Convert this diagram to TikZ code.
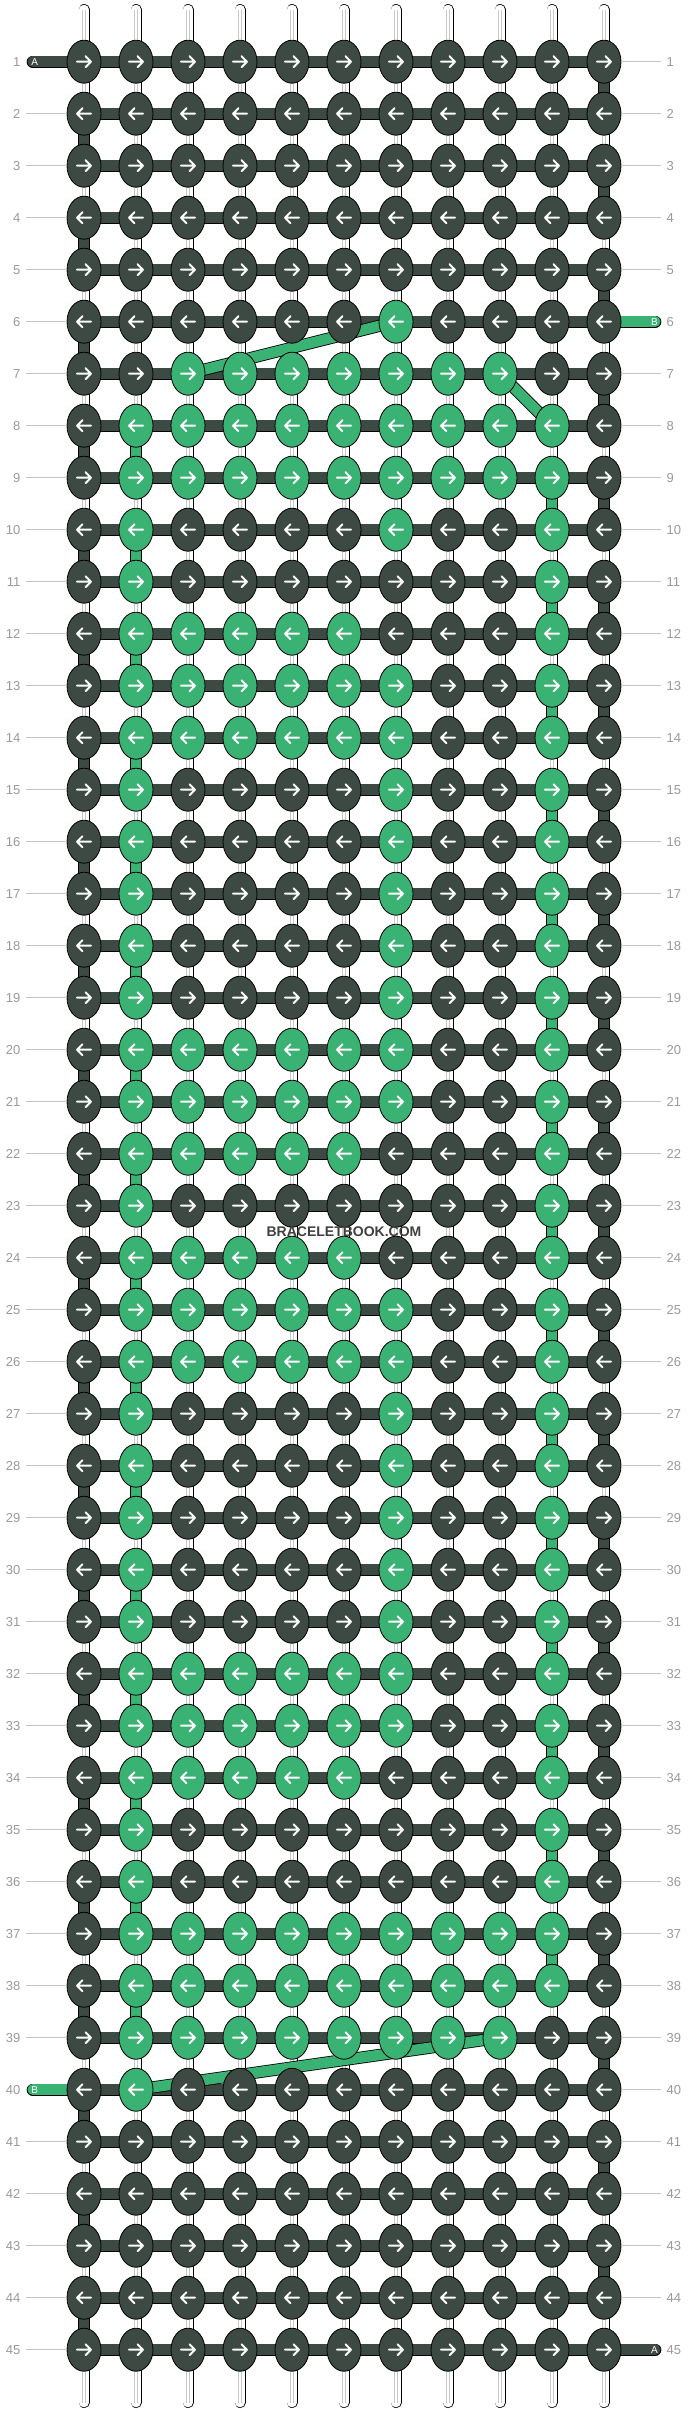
\documentclass[tikz,border=0pt]{standalone}
\usepackage{fontspec}
\setmainfont{Liberation Sans}
\usetikzlibrary{shapes.geometric}
\definecolor{dk}{HTML}{3C4A43}
\definecolor{gn}{HTML}{3AB273}
\definecolor{lbl}{HTML}{9A9A9A}
\definecolor{lln}{HTML}{C4C4C4}
\definecolor{strg}{HTML}{C8C8C8}
\definecolor{wm}{HTML}{404040}
\pgfdeclarelayer{bgl}
\pgfdeclarelayer{strl}
\pgfdeclarelayer{bandl}
\pgfsetlayers{bgl,strl,bandl,main}
\tikzset{
 knot/.style={ellipse, draw=black, line width=0.8pt, minimum width=34pt, minimum height=43pt, inner sep=0pt},
 arrR/.style={path picture={\draw[white,line width=2pt,line cap=round,line join=round]
   ([xshift=-7pt]path picture bounding box.center) -- ([xshift=7pt]path picture bounding box.center)
   ([xshift=1.5pt,yshift=5.5pt]path picture bounding box.center) -- ([xshift=7pt]path picture bounding box.center) -- ([xshift=1.5pt,yshift=-5.5pt]path picture bounding box.center);}},
 arrL/.style={path picture={\draw[white,line width=2pt,line cap=round,line join=round]
   ([xshift=7pt]path picture bounding box.center) -- ([xshift=-7pt]path picture bounding box.center)
   ([xshift=-1.5pt,yshift=5.5pt]path picture bounding box.center) -- ([xshift=-7pt]path picture bounding box.center) -- ([xshift=-1.5pt,yshift=-5.5pt]path picture bounding box.center);}},
 band/.style={draw=black, line width=0.8pt, double=#1, double distance=10.5pt},
 wstr/.style={draw=black, line width=0.7pt, double=white, double distance=9.6pt, line cap=round},
 gline/.style={draw=strg, line width=0.7pt},
 lline/.style={draw=lln, line width=0.9pt},
 lbltxt/.style={text=lbl, font=\fontsize{13}{13}\selectfont, inner sep=0pt},
 tailtxt/.style={text=white, font=\fontsize{10}{10}\selectfont, inner sep=0pt},
}
\begin{document}
\begin{tikzpicture}[x=1pt,y=-1pt]
\useasboundingbox (0,0) rectangle (688,2412);
\begin{pgfonlayer}{bgl}
\fill[white] (0,0) rectangle (688,2412);
\end{pgfonlayer}
% knots
\foreach \r/\gl in {1/{0},2/{0},3/{0},4/{0},5/{0},6/{7},7/{3,4,5,6,7,8,9},8/{2,3,4,5,6,7,8,9,10},9/{2,3,4,5,6,7,8,9,10},10/{2,7,10},11/{2,10},12/{2,3,4,5,6,10},13/{2,3,4,5,6,7,10},14/{2,3,4,5,6,7,10},15/{2,7,10},16/{2,7,10},17/{2,7,10},18/{2,7,10},19/{2,7,10},20/{2,3,4,5,6,7,10},21/{2,3,4,5,6,7,10},22/{2,3,4,5,6,10},23/{2,10},24/{2,3,4,5,6,10},25/{2,3,4,5,6,7,10},26/{2,3,4,5,6,7,10},27/{2,7,10},28/{2,7,10},29/{2,7,10},30/{2,7,10},31/{2,7,10},32/{2,3,4,5,6,7,10},33/{2,3,4,5,6,7,10},34/{2,3,4,5,6,10},35/{2,10},36/{2,10},37/{2,3,4,5,6,7,8,9,10},38/{2,3,4,5,6,7,8,9,10},39/{2,3,4,5,6,7,8,9},40/{2},41/{0},42/{0},43/{0},44/{0},45/{0}}{
  \pgfmathsetmacro\ky{61.7+52*(\r-1)}
  \foreach \c in {1,...,11}{
    \gdef\knotcol{dk}
    \foreach \g in \gl {\ifnum\g=\c\relax \gdef\knotcol{gn}\fi}
    \pgfmathsetmacro\kx{84+52*(\c-1)}
    \ifodd\r
      \node[knot, fill=\knotcol, arrR] (k-\r-\c) at (\kx,\ky) {};
    \else
      \node[knot, fill=\knotcol, arrL] (k-\r-\c) at (\kx,\ky) {};
    \fi
  }
  % row labels
  \node[lbltxt, anchor=east] (ln-\r) at (20.5,\ky) {\r};
  \node[lbltxt, anchor=west] (rn-\r) at (666.5,\ky) {\r};
}
% label lines
\foreach \r in {2,...,39,41,42,43,44,45}{
  \draw[lline] ([xshift=5.5pt]ln-\r.east) -- (k-\r-1.west);
}
\foreach \r in {1,2,3,4,5,7,8,...,44}{
  \draw[lline] (k-\r-11.east) -- ([xshift=-5.5pt]rn-\r.west);
}
% vertical base strings
\begin{pgfonlayer}{strl}
\foreach \c in {1,...,11}{
  \pgfmathsetmacro\kx{84+52*(\c-1)}
  \coordinate (st-\c) at (\kx,9.5);
  \coordinate (sb-\c) at (\kx,2402.5);
  \draw[wstr] (st-\c) -- (sb-\c);
  \draw[gline] ([xshift=-1.8pt]st-\c) -- ([xshift=-1.8pt]sb-\c);
  \draw[gline] ([xshift=1.8pt]st-\c) -- ([xshift=1.8pt]sb-\c);
}
\end{pgfonlayer}
% working threads
\begin{pgfonlayer}{bandl}
\foreach \r in {1,...,45}{
  \draw[band=dk] (k-\r-1.center) -- (k-\r-11.center);
}
\foreach \r in {1,...,44}{
  \pgfmathtruncatemacro\rn{\r+1}
  \ifodd\r
    \draw[band=dk] (k-\r-11.center) -- (k-\rn-11.center);
  \else
    \draw[band=dk] (k-\r-1.center) -- (k-\rn-1.center);
  \fi
}
\foreach \r in {8,10,...,38}{
  \pgfmathtruncatemacro\rn{\r+1}
  \draw[band=gn] (k-\r-2.center) -- (k-\rn-2.center);
}
\foreach \r in {9,11,...,37}{
  \pgfmathtruncatemacro\rn{\r+1}
  \draw[band=gn] (k-\r-10.center) -- (k-\rn-10.center);
}
\draw[band=gn] (k-6-7.center) -- (k-7-3.center);
\draw[band=gn] (k-7-9.center) -- (k-8-10.center);
\draw[band=gn] (k-40-2.center) -- (k-39-9.center);
% tails
\coordinate (tA1) at (32.7,61.7);
\coordinate (tB6) at (655.3,321.7);
\coordinate (tB40) at (32.7,2089.7);
\coordinate (tA45) at (655.3,2349.7);
\draw[band=dk, line cap=round] (tA1) -- (k-1-1.center);
\draw[band=gn, line cap=round] (tB6) -- (k-6-11.center);
\draw[band=gn, line cap=round] (tB40) -- (k-40-1.center);
\draw[band=dk, line cap=round] (tA45) -- (k-45-11.center);
\end{pgfonlayer}
\node[tailtxt] (lA1) at (34.7,61.7) {A};
\node[tailtxt] (lB6) at (654.5,321.7) {B};
\node[tailtxt] (lB40) at (34.7,2089.7) {B};
\node[tailtxt] (lA45) at (654.5,2349.7) {A};
% watermark
\node[text=wm, font=\bfseries\fontsize{14}{14}\selectfont, inner sep=0pt] (wmk) at (344,1232) {BRACELETBOOK.COM};
\end{tikzpicture}
\end{document}
